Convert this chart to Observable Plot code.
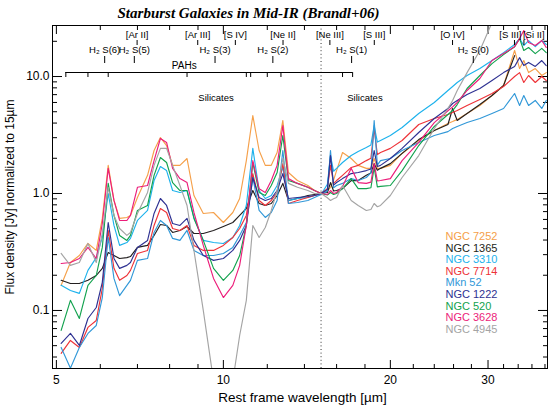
<!DOCTYPE html>
<html><head><meta charset="utf-8">
<script src="https://cdn.jsdelivr.net/npm/d3@7"></script>
<script src="https://cdn.jsdelivr.net/npm/@observablehq/plot@0.6"></script>
<style>html,body{margin:0;padding:0;background:#fff}svg{display:block}</style>
</head><body><div id="chart"></div>
<script>
// Rest-frame wavelength grid (µm)
const wavelength = [5.1,5.3,5.5,5.7,5.9,6.05,6.2,6.35,6.5,6.7,6.8,7.0,7.3,7.5,7.7,7.9,8.1,8.35,8.6,8.85,9.2,9.6,10.0,10.4,10.7,11.0,11.3,11.6,11.9,12.2,12.5,12.8,13.1,13.6,14.2,14.6,15.0,
  15.4,15.6,15.8,16.0,16.4,17.0,17.5,18.1,18.45,18.7,18.95,19.2,20,21,22.5,24,25.4,25.9,26.4,27.5,29,30.5,32,33.5,34.2,34.8,35.5,36.5,37.5,38.2];

// Flux density normalised to 15 µm (Jy)
const ngc7252 = [0.164,0.257,0.295,0.374,0.326,0.612,1.74,0.872,0.612,0.624,0.649,0.924,1.43,2.33,3.01,2.57,1.74,1.74,1.99,0.961,0.675,0.688,0.565,0.688,0.906,1.91,4.64,2.33,1.74,1.74,2.24,4.21,1.51,1.29,1.17,1.06,1.0,
  1.05,1.13,1.3,1.57,2.24,1.99,1.74,1.64,1.64,1.99,1.64,1.64,1.74,2.20,2.84,3.45,3.97,4.12,4.30,4.83,5.65,6.88,8.38,16.7,11.7,13.7,10.8,11.7,10.2,10.8];
const ngc1365 = [0.181,0.170,0.170,0.181,0.199,0.229,0.313,0.295,0.278,0.283,0.289,0.346,0.360,0.438,0.543,0.533,0.464,0.483,0.522,0.455,0.455,0.483,0.522,0.565,0.649,0.744,1.06,0.821,0.790,0.821,0.961,1.22,0.872,0.906,0.961,0.98,1.0,
  1.02,1.24,1.05,1.06,1.10,1.29,1.29,1.43,1.5,1.80,1.58,1.64,1.80,2.20,2.89,3.45,3.89,5.33,4.21,4.83,5.76,6.88,8.38,15.1,null,null,null,null,null,null];
const ngc3310 = [0.164,0.148,0.140,0.220,0.283,0.421,1.0,0.533,0.360,0.381,0.413,0.588,0.716,1.29,1.70,1.57,1.06,1.02,1.06,0.624,0.397,0.381,0.374,0.421,0.533,0.790,2.43,1.06,0.906,0.961,1.17,1.67,0.872,0.906,0.924,0.961,0.98,
  1.2,2.11,1.55,1.64,1.84,2.11,2.29,2.47,2.6,3.81,2.75,2.84,3.13,3.67,4.83,6.00,7.59,8.21,8.89,10.2,11.7,13.7,16.0,18.8,21.1,18.4,20.3,18.0,20.3,18.8];
const ngc7714 = [0.0430,0.0554,0.0483,0.0716,0.0821,0.154,0.483,0.229,0.181,0.199,0.220,0.307,0.326,0.533,0.744,0.688,0.502,0.483,0.533,0.360,0.326,0.326,0.360,0.421,0.502,0.649,1.48,0.872,0.790,0.872,1.02,1.80,0.821,0.872,0.924,0.961,1.0,
  1.1,1.74,1.22,1.29,1.43,1.67,1.74,1.91,2.0,3.59,2.15,2.24,2.43,2.84,3.89,4.38,4.73,4.92,5.12,5.65,6.36,7.16,8.21,10.0,10.8,8.89,10.2,8.89,10.0,9.24];
const mkn52 = [0.0483,0.0321,0.0483,0.0636,0.0744,0.129,0.421,0.188,0.134,0.164,0.181,0.268,0.278,0.464,0.588,0.533,0.413,0.397,0.483,0.326,0.295,0.295,0.307,0.346,0.438,0.565,1.37,0.716,0.624,0.688,0.872,2.33,0.821,0.838,0.872,0.924,0.98,
  1.05,2.33,1.12,1.17,1.22,1.34,1.29,1.37,1.5,4.21,1.75,1.91,1.99,2.33,2.73,3.13,3.38,3.59,3.74,4.04,4.38,4.83,5.33,7.16,5.65,6.88,5.65,6.24,5.33,6.24];
const ngc1222 = [0.0523,0.0636,0.0502,0.0854,0.106,0.174,0.565,0.278,0.229,0.243,0.257,0.346,0.397,0.675,0.906,0.790,0.554,0.533,0.612,0.397,0.295,0.268,0.278,0.326,0.397,0.533,1.37,0.924,0.872,0.906,1.06,1.48,0.906,0.924,0.943,0.961,1.0,
  1.08,2.11,1.18,1.24,1.34,1.48,1.51,1.57,1.62,2.33,1.7,1.74,1.99,2.43,3.32,4.38,5.33,5.88,6.24,7.02,7.90,9.24,10.8,12.2,14.5,12.4,13.2,12.2,13.7,12.4];
const ngc520 = [0.0675,0.122,0.0854,0.164,0.199,0.346,1.22,0.649,0.438,0.397,0.438,0.716,0.790,1.43,2.03,1.84,1.24,1.06,1.06,0.612,0.397,0.229,0.181,0.220,0.295,0.533,1.84,1.02,0.961,1.17,1.51,3.13,1.29,1.22,1.13,1.06,1.0,
  0.97,1.02,0.98,1.0,1.10,1.34,1.10,1.10,1.12,1.67,1.14,1.15,1.17,1.57,2.57,3.74,4.73,5.12,5.76,7.90,10.2,12.9,15.4,18.0,21.1,16.7,17.7,15.7,17.4,16.0];
const ngc3628 = [0.252,0.257,0.278,0.346,0.278,0.554,1.64,0.872,0.588,0.588,0.649,1.13,1.17,1.91,2.95,2.73,1.64,1.34,1.24,0.688,0.360,0.188,0.129,0.164,0.243,0.533,1.91,1.10,1.02,1.29,1.74,3.81,1.34,1.22,1.13,1.06,1.0,
  0.98,1.06,1.0,1.02,1.15,1.64,1.24,1.22,1.25,1.80,1.28,1.29,1.34,1.91,2.73,4.04,5.1,5.5,6.0,7.6,9.61,13.7,15.7,18.0,21.1,24.7,19.5,18.4,20.3,17.7];
const ngc4945 = [0.307,0.243,0.257,0.374,0.257,0.455,1.13,0.649,0.502,0.438,0.464,0.675,1.02,1.74,2.43,2.43,1.74,1.17,0.790,0.326,0.100,0.025,0.015,0.025,0.0611,0.122,0.533,0.421,0.512,0.716,1.06,2.0,1.22,1.13,1.06,1.0,1.0,
  0.92,0.872,0.9,0.924,1.17,0.872,0.790,0.716,0.73,0.821,0.77,0.790,0.961,1.37,2.11,3.59,5.33,6.24,7.59,10.8,16.7,28.9,null,null,null,null,null,null,null,null];

const galaxies = ["NGC 7252","NGC 1365","NGC 3310","NGC 7714","Mkn 52","NGC 1222","NGC 520","NGC 3628","NGC 4945"];
const galaxyColors = ["#f5a04a","#231f20","#1db2ec","#ee3338","#3198d8","#2e3192","#12a24e","#ec1d7a","#a4a4a4"];

// Spectral line annotations
const lineNames = ["[Ar II]","H\u2082 S(6)","H\u2082 S(5)","[Ar III]","H\u2082 S(3)","[S IV]","H\u2082 S(2)","[Ne II]","[Ne III]","H\u2082 S(1)","[S III]","[O IV]","H\u2082 S(0)","[S III]","[Si II]"];
const lineWavelengths = [6.99,6.11,6.91,8.99,9.66,10.51,12.28,12.81,15.56,17.03,18.71,25.89,28.22,33.48,34.82];
const lineSpecies = ["ion","H2","H2","ion","H2","ion","H2","ion","ion","H2","ion","ion","H2","ion","ion"];
const pahBands = [5.2,5.7,6.2,8.6,11.0,11.2,12.0,12.7,14.2,16.4,17.1];
const pahLabelWavelength = 8.5;
const silicateBands = [9.7,18.0];
const normWavelength = 15;

// Axis ticks
const xMajorTicks = [5,10,20,30];
const xMinorTicks = [6,7,8,9,12,14,16,18,22,24,26,28,32,34,36,38];
const yMajorTicks = [0.1,1,10];
const yMinorTicks = [0.04,0.05,0.06,0.07,0.08,0.09,0.2,0.3,0.4,0.5,0.6,0.7,0.8,0.9,2,3,4,5,6,7,8,9,20];

const series = [ngc7252,ngc1365,ngc3310,ngc7714,mkn52,ngc1222,ngc520,ngc3628,ngc4945];
const rows = [];
galaxies.forEach((g,i)=>wavelength.forEach((w,j)=>{const f=series[i][j]; if(f!=null) rows.push({galaxy:g, wl:w, flux:f});}));
const lines = lineNames.map((n,i)=>({name:n, wl:lineWavelengths[i], species:lineSpecies[i]}));

const W=555,H=409,mL=52,mR=8,mT=25,mB=41;
const sans = "'Liberation Sans', Arial, Helvetica, sans-serif";

const plot = Plot.plot({
  width:W, height:H, marginLeft:mL, marginRight:mR, marginTop:mT, marginBottom:mB,
  style:{fontFamily:sans, fontSize:"12px", background:"#fff", color:"#000"},
  x:{type:"log", domain:[4.92,38.4]},
  y:{type:"log", domain:[0.0319,27.3]},
  color:{domain:galaxies, range:galaxyColors},
  marks:[
    // ticks, all pointing inwards
    Plot.axisX({anchor:"bottom", ticks:xMajorTicks, tickSize:-8, fill:"none", label:null}),
    Plot.axisX({anchor:"bottom", ticks:xMinorTicks, tickSize:-4, fill:"none", label:null}),
    Plot.axisX({anchor:"top", ticks:xMajorTicks, tickSize:-8, fill:"none", label:null}),
    Plot.axisX({anchor:"top", ticks:xMinorTicks, tickSize:-4, fill:"none", label:null}),
    Plot.axisY({anchor:"left", ticks:yMajorTicks, tickSize:-10, fill:"none", label:null}),
    Plot.axisY({anchor:"left", ticks:yMinorTicks, tickSize:-5, fill:"none", label:null}),
    Plot.axisY({anchor:"right", ticks:yMajorTicks, tickSize:-10, fill:"none", label:null}),
    Plot.axisY({anchor:"right", ticks:yMinorTicks, tickSize:-5, fill:"none", label:null}),
    // tick labels
    Plot.axisX({anchor:"bottom", ticks:xMajorTicks, tickSize:0, tickPadding:7, tickFormat:d=>String(d), label:null, fontSize:12}),
    Plot.axisY({anchor:"left", ticks:yMajorTicks, tickSize:0, tickPadding:3, tickFormat:d=>d.toFixed(1), label:null, fontSize:12}),
    // normalisation wavelength
    Plot.ruleX([normWavelength], {stroke:"#333", strokeDasharray:"1,2.6", strokeWidth:1}),
    // spectra
    Plot.line(rows, {x:"wl", y:"flux", z:"galaxy", stroke:"galaxy", strokeWidth:1.15, clip:true}),
    Plot.frame({stroke:"#000", strokeWidth:1}),
    // spectral line labels
    Plot.text(lines, {filter:d=>d.species==="ion" && d.wl<30, x:"wl", text:"name", frameAnchor:"top", dy:9, lineAnchor:"middle", fontSize:9.5}),
    Plot.text(lines, {filter:d=>d.species==="H2", x:"wl", text:"name", frameAnchor:"top", dy:24, lineAnchor:"middle", fontSize:9.5}),
    Plot.text(lines, {filter:d=>d.species==="ion" && d.wl>33 && d.wl<34, x:"wl", text:"name", frameAnchor:"top", dy:9, dx:7, textAnchor:"end", lineAnchor:"middle", fontSize:9.5}),
    Plot.text(lines, {filter:d=>d.species==="ion" && d.wl>34, x:"wl", text:"name", frameAnchor:"top", dy:9, dx:-1, textAnchor:"start", lineAnchor:"middle", fontSize:9.5}),
    Plot.ruleX(lines.filter(d=>d.species==="ion"), {x:"wl", insetTop:15, insetBottom:H-mT-mB-20}),
    Plot.ruleX(lines.filter(d=>d.species==="H2"), {x:"wl", insetTop:31, insetBottom:H-mT-mB-38}),
    // PAH bracket
    Plot.ruleY([{from:pahBands[0], to:pahBands[pahBands.length-1]}], {y:null, x1:"from", x2:"to", dy:72-(mT+(H-mB))/2}),
    Plot.ruleX(pahBands, {insetTop:47, insetBottom:H-mT-mB-52}),
    Plot.text(["PAHs"], {x:()=>pahLabelWavelength, frameAnchor:"top", dy:40, lineAnchor:"middle", fontSize:10}),
    // silicates
    Plot.text(silicateBands, {x:d=>d, text:()=>"Silicates", frameAnchor:"top", dy:72, lineAnchor:"middle", fontSize:9.5}),
    // legend
    ...galaxies.map((g,i)=>Plot.text([g], {frameAnchor:"top-left", dx:393, dy:211+i*11.6, textAnchor:"start", lineAnchor:"middle", fill:galaxyColors[i], fontSize:11})),
    // title and axis labels
    Plot.text(["Starburst Galaxies in Mid-IR (Brandl+06)"], {frameAnchor:"top-left", dx:196, dy:-12, textAnchor:"middle", lineAnchor:"middle", fontFamily:"'Liberation Serif', 'Times New Roman', serif", fontWeight:"bold", fontStyle:"italic", fontSize:15}),
    Plot.text(["Rest frame wavelength [\u00b5m]"], {frameAnchor:"bottom", dx:2.5, dy:29, textAnchor:"middle", lineAnchor:"middle", fontSize:13.5}),
    Plot.text(["Flux density [Jy] normalized to 15\u00b5m"], {frameAnchor:"left", dx:-42, rotate:-90, textAnchor:"middle", lineAnchor:"middle", fontSize:12})
  ]
});
document.getElementById("chart").appendChild(plot);
</script>
</body></html>
